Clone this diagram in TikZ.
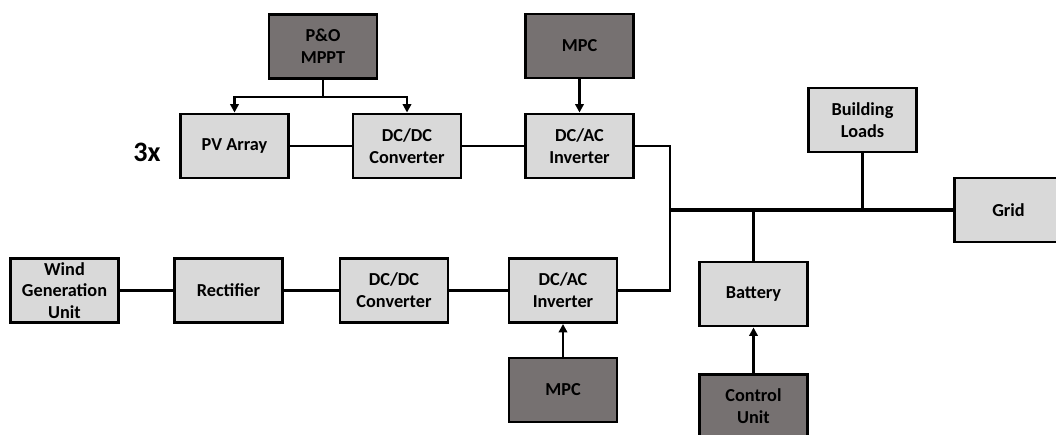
\documentclass[tikz,border=0pt]{standalone}
\usepackage{fontspec}
\setmainfont{Carlito}
\usetikzlibrary{arrows.meta}
\definecolor{boxgray}{HTML}{D9D9D9}
\definecolor{ctrlgray}{HTML}{767171}
\begin{document}
\begin{tikzpicture}[x=0.025cm, y=-0.025cm,
    block/.style={draw, line width=1.8pt, fill=boxgray, minimum width=2.71cm, minimum height=1.61cm, align=center, inner sep=1pt, font=\fontsize{13}{15.5}\selectfont\bfseries},
    ctrlblock/.style={block, fill=ctrlgray},
    link/.style={line width=1.5pt},
    sig/.style={link, -{Triangle[length=6pt, width=6pt]}},
    bus/.style={line width=3.5pt}]
    \useasboundingbox (0,0) rectangle (1056,434);
    \clip (0,0) rectangle (1056,434);

    % PV branch (top row)
    \node[ctrlblock] (mppt) at (323,46.5) {P\&O\\MPPT};
    \node[ctrlblock] (mpctop) at (579.5,46) {MPC};
    \node[font=\fontsize{20}{22}\selectfont\bfseries] (mult) at (147,152) {3x};
    \node[block] (pv) at (234.5,146) {PV Array};
    \node[block] (dcdctop) at (407,146) {DC/DC\\Converter};
    \node[block] (dcactop) at (579.5,146) {DC/AC\\Inverter};

    % Wind branch (bottom row)
    \node[block] (wind) at (64.5,290.5) {Wind\\Generation\\Unit};
    \node[block] (rect) at (228.5,290.5) {Rectifier};
    \node[block] (dcdcbot) at (394,290.5) {DC/DC\\Converter};
    \node[block] (dcacbot) at (563,290.5) {DC/AC\\Inverter};
    \node[ctrlblock] (mpcbot) at (563,390) {MPC};

    % AC side
    \node[block] (loads) at (862.5,120) {Building\\Loads};
    \node[block] (grid) at (1008.5,210) {Grid};
    \node[block] (battery) at (753.5,294) {Battery};
    \node[ctrlblock] (ctrlunit) at (753.5,406.5) {Control\\Unit};

    \coordinate (split) at (323,97);
    \coordinate (busl) at (670,210);

    % Arrows
    \draw[link] (mppt.south) -- (split);
    \draw[sig] (split) -| (pv.north);
    \draw[sig] (split) -| (dcdctop.north);
    \draw[sig] (mpctop.south) -- (dcactop.north);
    \draw[sig] (mpcbot.north) -- (dcacbot.south);
    \draw[sig] (ctrlunit.north) -- (battery.south);

    % Power links
    \draw[link] (pv.east) -- (dcdctop.west);
    \draw[link] (dcdctop.east) -- (dcactop.west);
    \draw[link] (wind.east) -- (rect.west);
    \draw[link] (rect.east) -- (dcdcbot.west);
    \draw[link] (dcdcbot.east) -- (dcacbot.west);
    \draw[link] (dcactop.east) -| (busl);
    \draw[link] (dcacbot.east) -| (busl);
    \draw[bus] (busl) -- (grid.west);
    \draw[link] (loads.south) -- (loads.south |- busl);
    \draw[link] (battery.north) -- (battery.north |- busl);
\end{tikzpicture}
\end{document}
